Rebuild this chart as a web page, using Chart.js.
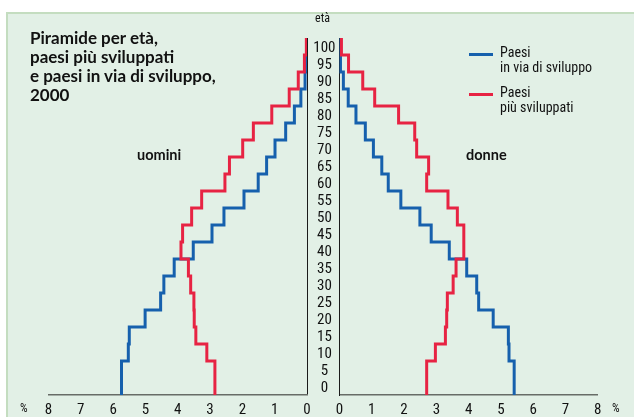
<!DOCTYPE html>
<html>
<head>
<meta charset="utf-8">
<script src="https://cdn.jsdelivr.net/npm/chart.js@4.4.1/dist/chart.umd.min.js"></script>
<style>
  body { margin: 0; background: #fff; width: 634px; height: 417px; overflow: hidden; position: relative; }
  #panel { position: absolute; left: 6px; top: 12px; right: 0; bottom: 0; background: #e2f0e6;
           border-top: 2px solid #c4ddc0; border-left: 2px solid #c4ddc0; }
  canvas { position: absolute; top: 0; }
  .txt { position: absolute; color: #111; white-space: nowrap; }
  #title { left: 30px; top: 28px; font: bold 17px Lato, sans-serif; line-height: 19px; }
  .narrow { font-family: 'Roboto Condensed', Roboto, sans-serif; }
  .side { font: bold 14.5px Lato, sans-serif; }
  .legend { position: absolute; left: 469px; font-size: 14px; line-height: 15px; color: #111; white-space: nowrap; }
  .legend .swatch { position: absolute; left: 0; width: 24px; height: 3px; }
  .legend .lbl { position: absolute; left: 31px; top: 0; white-space: nowrap; }
</style>
</head>
<body>
<div id="panel"></div>
<canvas id="leftChart" width="323" height="417" style="left:0"></canvas>
<canvas id="rightChart" width="328" height="417" style="left:306px"></canvas>
<div id="title" class="txt">Piramide per età,<br>paesi più sviluppati<br>e paesi in via di sviluppo,<br>2000</div>
<div class="txt side" style="left:137px; top:146px">uomini</div>
<div class="txt side" style="left:466px; top:146px">donne</div>
<div class="txt narrow" style="left:315px; top:11px; font-size:12px">età</div>
<div class="txt narrow" style="left:20px; top:401px; font-size:12px">%</div>
<div class="txt narrow" style="left:612px; top:401px; font-size:12px">%</div>
<div id="legend"></div>
<script>
// age bands (lower bound, 5-year bands) and tick labels
const ageBands = [0, 5, 10, 15, 20, 25, 30, 35, 40, 45, 50, 55, 60, 65, 70, 75, 80, 85, 90, 95, 100];
const pctTicks = [0, 1, 2, 3, 4, 5, 6, 7, 8];

// % of population per band
const menDeveloping   = [5.74, 5.74, 5.53, 5.50, 5.01, 4.53, 4.43, 4.11, 3.52, 2.94, 2.57, 1.95, 1.51, 1.25, 0.99, 0.66, 0.39, 0.19, 0.06, 0.02, 0.01];
const menDeveloped    = [2.85, 2.85, 3.10, 3.44, 3.49, 3.50, 3.60, 3.67, 3.90, 3.85, 3.57, 3.26, 2.54, 2.40, 1.99, 1.66, 1.09, 0.55, 0.27, 0.08, 0.02];
const womenDeveloping = [5.41, 5.41, 5.25, 5.23, 4.76, 4.31, 4.25, 3.94, 3.40, 2.84, 2.49, 1.90, 1.51, 1.31, 1.05, 0.80, 0.51, 0.27, 0.12, 0.03, 0.01];
const womenDeveloped  = [2.70, 2.70, 2.97, 3.28, 3.32, 3.34, 3.52, 3.61, 3.85, 3.85, 3.65, 3.36, 2.70, 2.76, 2.39, 2.33, 1.83, 1.09, 0.72, 0.28, 0.06];

const seriesNames = [["Paesi", "in via di sviluppo"], ["Paesi", "più sviluppati"]];
const BLUE = '#1660ad';
const RED = '#e72343';
const BAND = 5;
const NARROW = "'Roboto Condensed', Roboto, sans-serif";

// each band becomes a vertical segment, joined by horizontal steps
function steps(values) {
  return values.flatMap((v, i) => [{x: v, y: ageBands[i]}, {x: v, y: ageBands[i] + BAND}]);
}

function lineSet(values, color) {
  return {
    data: steps(values),
    borderColor: color,
    borderWidth: 3,
    pointRadius: 0,
    showLine: true,
    fill: false,
    tension: 0,
  };
}

function pctAxis(reverse, zeroLine) {
  return {
    type: 'linear',
    min: 0,
    max: 8,
    reverse,
    afterBuildTicks: s => { s.ticks = pctTicks.map(v => ({value: v})); },
    afterFit: s => { s.height = 22; },
    border: {display: true, color: '#676c67', width: 1.5},
    grid: {
      display: zeroLine,
      drawTicks: false,
      color: ctx => (ctx.tick && ctx.tick.value === 0) ? '#1b1b1b' : 'rgba(0,0,0,0)',
      lineWidth: 1,
    },
    ticks: {padding: 6, color: '#111', font: {family: NARROW, size: 15}, maxRotation: 0},
  };
}

Chart.defaults.animation = false;

new Chart(document.getElementById('leftChart'), {
  type: 'scatter',
  data: {datasets: [lineSet(menDeveloped, RED), lineSet(menDeveloping, BLUE)]},
  options: {
    responsive: false,
    layout: {padding: {left: 48.5, right: 16, top: 38, bottom: 0}},
    plugins: {legend: {display: false}, tooltip: {enabled: false}},
    scales: {
      x: pctAxis(true, true),
      y: {type: 'linear', min: 0, max: 105, display: false},
    },
  },
});

new Chart(document.getElementById('rightChart'), {
  type: 'scatter',
  data: {datasets: [lineSet(womenDeveloped, RED), lineSet(womenDeveloping, BLUE)]},
  options: {
    responsive: false,
    layout: {padding: {left: 0, right: 36.2, top: 38, bottom: 0}},
    plugins: {legend: {display: false}, tooltip: {enabled: false}},
    scales: {
      x: pctAxis(false, false),
      y: {
        type: 'linear',
        min: 0,
        max: 105,
        position: 'left',
        afterBuildTicks: s => { s.ticks = ageBands.map(a => ({value: a + BAND / 2 - 0.5})); },
        afterFit: s => { s.width = 33.5; },
        border: {display: true, color: '#1b1b1b', width: 1},
        grid: {display: false, drawTicks: false},
        ticks: {
          autoSkip: false,
          crossAlign: 'center',
          padding: 4,
          color: '#111',
          font: {family: NARROW, size: 15},
          callback: (v, i) => String(ageBands[i]),
        },
      },
    },
  },
});

// legend
const legend = document.getElementById('legend');
[[BLUE, 45], [RED, 85]].forEach(([color, top], i) => {
  const item = document.createElement('div');
  item.className = 'legend narrow';
  item.style.top = top + 'px';
  item.innerHTML = `<div class="swatch" style="background:${color}; top:8px"></div>` +
    `<div class="lbl">${seriesNames[i].join('<br>')}</div>`;
  legend.appendChild(item);
});
</script>
</body>
</html>
